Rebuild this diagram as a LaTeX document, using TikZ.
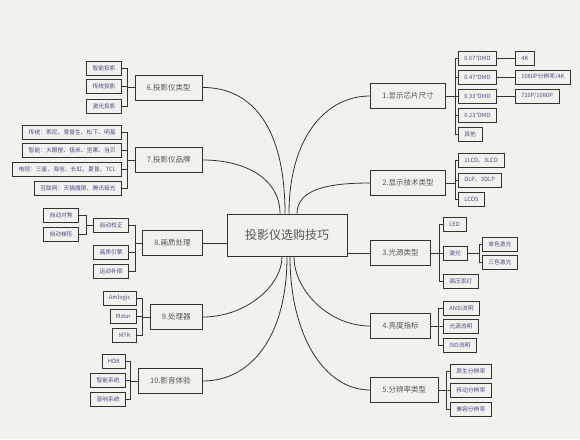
\documentclass[tikz,border=0pt]{standalone}
\usepackage{fontspec}
\setmainfont{Noto Sans CJK SC}
\newfontfamily\latinq{Noto Sans}
\usetikzlibrary{calc}
\definecolor{Paper} {HTML}{F2F1ED}
\definecolor{Ink}   {HTML}{333333}
\definecolor{MText} {HTML}{555555}
\definecolor{Leaf}  {HTML}{4E4E8C}
\newcommand{\inch}{{\latinq\symbol{"22}}}
\tikzset{
  ctrbox/.style={
    rectangle, draw=Ink, fill=Paper, text=MText,
    font=\fontsize{12}{14}\selectfont,
    minimum width=120pt, minimum height=42pt, line width=0.9pt,
  },
  topic/.style={
    rectangle, draw=Ink, fill=Paper, text=MText,
    font=\fontsize{7.5}{9}\selectfont,
    inner xsep=12pt, inner ysep=0pt, minimum height=25pt,
    line width=0.7pt,
  },
  leaf/.style={
    rectangle, draw=Ink, fill=Paper, text=Leaf,
    font=\fontsize{5.8}{7}\selectfont,
    inner xsep=6pt, inner ysep=0pt, minimum height=14pt,
    line width=0.6pt,
  },
  lnk/.style={draw=Ink, line width=0.8pt},
  brc/.style={draw=Ink, line width=0.8pt},
}
\begin{document}
\begin{tikzpicture}[x=1pt,y=-1pt]
    \fill[Paper] (0,0) rectangle (580,439);
    \useasboundingbox (0,0) rectangle (580,439);

    \node[ctrbox] (ctr) at (287,235) {投影仪选购技巧};

    % left topics
    \node[topic,anchor=east] (t6)  at (203,87.5) {6.投影仪类型};
    \node[topic,anchor=east] (t7)  at (203,160)  {7.投影仪品牌};
    \node[topic,anchor=east] (t8)  at (203,243)  {8.画质处理};
    \node[topic,anchor=east] (t9)  at (203,317)  {9.处理器};
    \node[topic,anchor=east] (t10) at (203,381)  {10.影音体验};

    % right topics
    \node[topic,anchor=west] (t1) at (370,96)  {1.显示芯片尺寸};
    \node[topic,anchor=west] (t2) at (370,183) {2.显示技术类型};
    \node[topic,anchor=west] (t3) at (370,253) {3.光源类型};
    \node[topic,anchor=west] (t4) at (370,326) {4.亮度指标};
    \node[topic,anchor=west] (t5) at (370,390) {5.分辨率类型};

    % centre to topics
    \coordinate (n7) at ([xshift=-7pt]ctr.north);
    \coordinate (n6) at ([xshift=-2pt]ctr.north);
    \coordinate (n1) at ([xshift=2pt]ctr.north);
    \coordinate (n2) at ([xshift=10pt]ctr.north);
    \coordinate (s9) at ([xshift=-5pt]ctr.south);
    \coordinate (s10) at ([xshift=0pt]ctr.south);
    \coordinate (s5) at ([xshift=3pt]ctr.south);
    \coordinate (s4) at ([xshift=7pt]ctr.south);
    \draw[lnk] (t6.east) .. controls +(50,0) and +(0,-85) .. (n6);
    \draw[lnk] (t7.east) .. controls +(42,0) and +(0,-35) .. (n7);
    \draw[lnk] (t1.west) .. controls +(-45,0) and +(0,-75) .. (n1);
    \draw[lnk] (t2.west) .. controls +(-40,0) and +(0,-25) .. (n2);
    \draw[lnk] (t9.east) .. controls +(42,0) and +(0,30) .. (s9);
    \draw[lnk] (t10.east) .. controls +(48,0) and +(0,80) .. (s10);
    \draw[lnk] (t4.west) .. controls +(-40,0) and +(0,35) .. (s4);
    \draw[lnk] (t5.west) .. controls +(-45,0) and +(0,80) .. (s5);
    \draw[lnk] (t8.east) -- (t8.east -| ctr.west);
    \draw[lnk] (ctr.east |- t3.west) -- (t3.west);

    % 6
    \node[leaf,anchor=east] (a61) at (122,68)  {智能投影};
    \node[leaf,anchor=east] (a62) at (122,86)  {传统投影};
    \node[leaf,anchor=east] (a63) at (122,106) {激光投影};
    \draw[brc] (t6.west) -- ++(-7,0) |- (a61.east);
    \draw[brc] (t6.west) -- ++(-7,0) |- (a62.east);
    \draw[brc] (t6.west) -- ++(-7,0) |- (a63.east);

    % 7
    \node[leaf,anchor=east] (a71) at (122,132) {传统：索尼、爱普生、松下、明基};
    \node[leaf,anchor=east] (a72) at (122,150) {智能：大眼橙、极米、坚果、当贝};
    \node[leaf,anchor=east] (a73) at (122,169) {电视：三星、海信、长虹、夏普、TCL};
    \node[leaf,anchor=east] (a74) at (122,188) {互联网：天猫魔屏、腾讯极光};
    \draw[brc] (t7.west) -- ++(-7,0) |- (a71.east);
    \draw[brc] (t7.west) -- ++(-7,0) |- (a72.east);
    \draw[brc] (t7.west) -- ++(-7,0) |- (a73.east);
    \draw[brc] (t7.west) -- ++(-7,0) |- (a74.east);

    % 8
    \node[leaf,anchor=east] (a81) at (129,225) {自动校正};
    \node[leaf,anchor=east] (a82) at (129,252) {画质引擎};
    \node[leaf,anchor=east] (a83) at (129,271) {运动补偿};
    \draw[brc] (t8.west) -- ++(-7,0) |- (a81.east);
    \draw[brc] (t8.west) -- ++(-7,0) |- (a82.east);
    \draw[brc] (t8.west) -- ++(-7,0) |- (a83.east);
    \node[leaf,anchor=east] (b811) at (79,215) {自动对焦};
    \node[leaf,anchor=east] (b812) at (79,234) {自动梯形};
    \draw[brc] (a81.west) -- ++(-7,0) |- (b811.east);
    \draw[brc] (a81.west) -- ++(-7,0) |- (b812.east);

    % 9
    \node[leaf,anchor=east] (a91) at (137,298) {Amlogic};
    \node[leaf,anchor=east] (a92) at (137,316) {Mstar};
    \node[leaf,anchor=east] (a93) at (137,335) {MTK};
    \draw[brc] (t9.west) -- ++(-7,0) |- (a91.east);
    \draw[brc] (t9.west) -- ++(-7,0) |- (a92.east);
    \draw[brc] (t9.west) -- ++(-7,0) |- (a93.east);

    % 10
    \node[leaf,anchor=east] (a101) at (126,361) {HDR};
    \node[leaf,anchor=east] (a102) at (126,380) {智能系统};
    \node[leaf,anchor=east] (a103) at (126,399) {音响系统};
    \draw[brc] (t10.west) -- ++(-7,0) |- (a101.east);
    \draw[brc] (t10.west) -- ++(-7,0) |- (a102.east);
    \draw[brc] (t10.west) -- ++(-7,0) |- (a103.east);

    % 1
    \node[leaf,anchor=west] (a11) at (458,58)  {0.67\inch DMD};
    \node[leaf,anchor=west] (a12) at (458,77)  {0.47\inch DMD};
    \node[leaf,anchor=west] (a13) at (458,96)  {0.33\inch DMD};
    \node[leaf,anchor=west] (a14) at (458,115) {0.23\inch DMD};
    \node[leaf,anchor=west] (a15) at (458,134) {其他};
    \draw[brc] (t1.east) -- ++(9,0) |- (a11.west);
    \draw[brc] (t1.east) -- ++(9,0) |- (a12.west);
    \draw[brc] (t1.east) -- ++(9,0) |- (a13.west);
    \draw[brc] (t1.east) -- ++(9,0) |- (a14.west);
    \draw[brc] (t1.east) -- ++(9,0) |- (a15.west);
    \node[leaf,anchor=west] (b111) at (515,58) {4K};
    \node[leaf,anchor=west] (b121) at (515,77) {1080P分辨率/4K};
    \node[leaf,anchor=west] (b131) at (515,96) {720P/1080P};
    \draw[brc] (a11.east) -- (b111.west); \draw[brc] (a12.east) -- (b121.west);
    \draw[brc] (a13.east) -- (b131.west);

    % 2
    \node[leaf,anchor=west] (a21) at (458,160) {1LCD、3LCD};
    \node[leaf,anchor=west] (a22) at (458,180) {DLP、3DLP};
    \node[leaf,anchor=west] (a23) at (458,199) {LCOS};
    \draw[brc] (t2.east) -- ++(9,0) |- (a21.west);
    \draw[brc] (t2.east) -- ++(9,0) |- (a22.west);
    \draw[brc] (t2.east) -- ++(9,0) |- (a23.west);

    % 3
    \node[leaf,anchor=west] (a31) at (443,224) {LED};
    \node[leaf,anchor=west] (a32) at (443,253) {激光};
    \node[leaf,anchor=west] (a33) at (443,281) {高压汞灯};
    \draw[brc] (t3.east) -- ++(8,0) |- (a31.west);
    \draw[brc] (t3.east) -- ++(8,0) |- (a32.west);
    \draw[brc] (t3.east) -- ++(8,0) |- (a33.west);
    \node[leaf,anchor=west] (b321) at (482,244) {单色激光};
    \node[leaf,anchor=west] (b322) at (482,262) {三色激光};
    \draw[brc] (a32.east) -- ++(12,0) |- (b321.west);
    \draw[brc] (a32.east) -- ++(12,0) |- (b322.west);

    % 4
    \node[leaf,anchor=west] (a41) at (443,308) {ANSI流明};
    \node[leaf,anchor=west] (a42) at (443,326) {光源流明};
    \node[leaf,anchor=west] (a43) at (443,345) {ISO流明};
    \draw[brc] (t4.east) -- ++(7,0) |- (a41.west);
    \draw[brc] (t4.east) -- ++(7,0) |- (a42.west);
    \draw[brc] (t4.east) -- ++(7,0) |- (a43.west);

    % 5
    \node[leaf,anchor=west] (a51) at (450,371) {原生分辨率};
    \node[leaf,anchor=west] (a52) at (450,390) {移动分辨率};
    \node[leaf,anchor=west] (a53) at (450,409) {兼容分辨率};
    \draw[brc] (t5.east) -- ++(8,0) |- (a51.west);
    \draw[brc] (t5.east) -- ++(8,0) |- (a52.west);
    \draw[brc] (t5.east) -- ++(8,0) |- (a53.west);
\end{tikzpicture}
\end{document}
